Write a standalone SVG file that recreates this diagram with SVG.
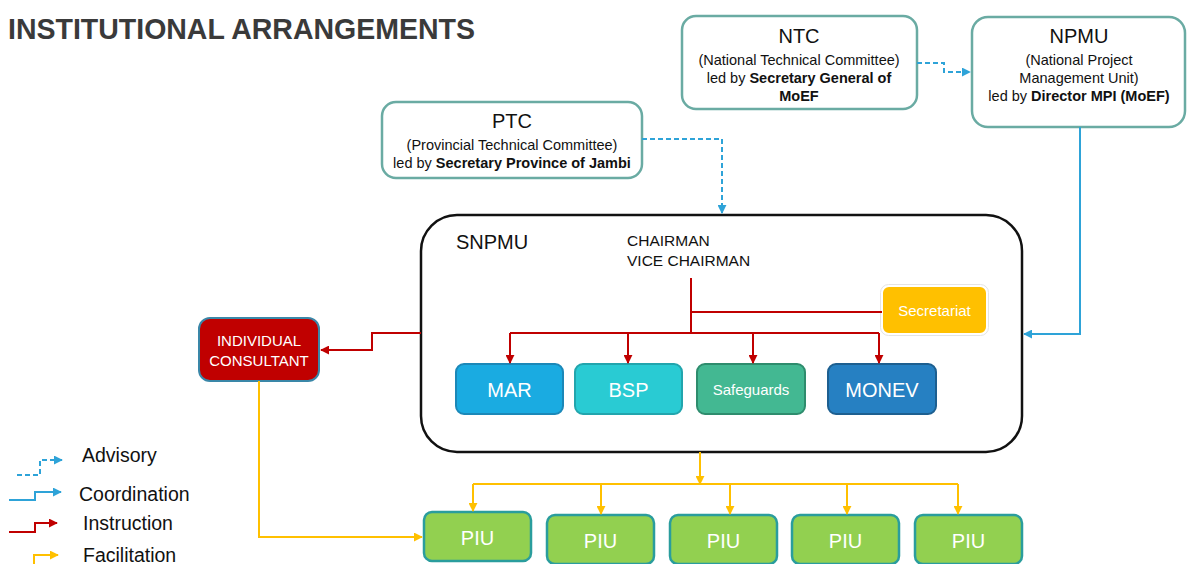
<svg xmlns="http://www.w3.org/2000/svg" width="1188" height="564" viewBox="0 0 1188 564">
  <style>
    text { font-family: "Liberation Sans", Arial, sans-serif; }
    .title { font-size: 30px; font-weight: bold; fill: #3a3a3a; }
    .committee { fill: #ffffff; stroke: #6aaba3; stroke-width: 2.5; }
    .head { font-size: 20px; fill: #111; text-anchor: middle; }
    .sub { font-size: 14.5px; fill: #111; text-anchor: middle; }
    .b { font-weight: bold; }
    .unit { stroke-width: 2; }
    .unitlabel { font-size: 20px; fill: #ffffff; text-anchor: middle; }
    .small { font-size: 15px; fill: #ffffff; text-anchor: middle; }
    .piu { fill: #92d050; stroke: #2a9d9d; stroke-width: 2.5; }
    .advisory { fill: none; stroke: #2ea3d8; stroke-width: 2; stroke-dasharray: 5 3; }
    .coord { fill: none; stroke: #2ea3d8; stroke-width: 2; }
    .instr { fill: none; stroke: #c00000; stroke-width: 2; }
    .facil { fill: none; stroke: #ffc000; stroke-width: 2; }
    .legend { font-size: 19.5px; fill: #111; }
  </style>
  <defs>
    <marker id="arrBlue" viewBox="0 0 10 10" refX="9" refY="5" markerWidth="9" markerHeight="9" markerUnits="userSpaceOnUse" orient="auto">
      <path d="M0,0 L10,5 L0,10 z" fill="#2ea3d8"/>
    </marker>
    <marker id="arrRed" viewBox="0 0 10 10" refX="9" refY="5" markerWidth="9" markerHeight="9" markerUnits="userSpaceOnUse" orient="auto">
      <path d="M0,0 L10,5 L0,10 z" fill="#c00000"/>
    </marker>
    <marker id="arrYellow" viewBox="0 0 10 10" refX="9" refY="5" markerWidth="9" markerHeight="9" markerUnits="userSpaceOnUse" orient="auto">
      <path d="M0,0 L10,5 L0,10 z" fill="#ffc000"/>
    </marker>
  </defs>

  <rect width="1188" height="564" fill="#ffffff"/>

  <text class="title" x="8" y="39" textLength="467" lengthAdjust="spacingAndGlyphs">INSTITUTIONAL ARRANGEMENTS</text>

  <!-- Committees -->
  <g id="ntc">
    <rect class="committee" x="682" y="16" width="235" height="93" rx="14"/>
    <text class="head" x="799" y="43">NTC</text>
    <text class="sub" x="799" y="65">(National Technical Committee)</text>
    <text class="sub" x="799" y="83">led by <tspan class="b">Secretary General of</tspan></text>
    <text class="sub b" x="799" y="101">MoEF</text>
  </g>

  <g id="npmu">
    <rect class="committee" x="972" y="17" width="213" height="110" rx="16"/>
    <text class="head" x="1079" y="43">NPMU</text>
    <text class="sub" x="1079" y="65">(National Project</text>
    <text class="sub" x="1079" y="83">Management Unit)</text>
    <text class="sub" x="1079" y="101">led by <tspan class="b">Director MPI (MoEF)</tspan></text>
  </g>

  <g id="ptc">
    <rect class="committee" x="382" y="102" width="260" height="76" rx="14"/>
    <text class="head" x="512" y="128">PTC</text>
    <text class="sub" x="512" y="150">(Provincial Technical Committee)</text>
    <text class="sub" x="512" y="168">led by <tspan class="b">Secretary Province of Jambi</tspan></text>
  </g>

  <!-- Provincial unit with its internal teams -->
  <g id="snpmu">
    <rect x="421" y="215" width="601" height="237" rx="36" fill="#ffffff" stroke="#111" stroke-width="2.5"/>
    <text x="456" y="249" font-size="20" fill="#111">SNPMU</text>
    <text x="627" y="246" font-size="15.5" fill="#111">CHAIRMAN</text>
    <text x="627" y="266" font-size="15.5" fill="#111">VICE CHAIRMAN</text>
  </g>

  <g id="secretariat">
    <rect x="882" y="286" width="105" height="48" rx="7" fill="#ffc000" stroke="#ffffff" stroke-width="2"/>
    <rect x="880.5" y="284.5" width="108" height="51" rx="8" fill="none" stroke="#e4e4e4" stroke-width="1"/>
    <text class="small" x="934.5" y="316">Secretariat</text>
  </g>

  <g id="mar">
    <rect class="unit" x="456" y="364" width="107" height="50" rx="8" fill="#1aabe1" stroke="#1b88b8"/>
    <text class="unitlabel" x="509.5" y="397">MAR</text>
  </g>
  <g id="bsp">
    <rect class="unit" x="575" y="364" width="107" height="50" rx="8" fill="#29cbd3" stroke="#22a5ad"/>
    <text class="unitlabel" x="628.5" y="397">BSP</text>
  </g>
  <g id="safeguards">
    <rect class="unit" x="697" y="364" width="108" height="50" rx="8" fill="#43b892" stroke="#2e8c6d"/>
    <text class="small" x="751" y="395">Safeguards</text>
  </g>
  <g id="monev">
    <rect class="unit" x="828" y="364" width="108" height="50" rx="8" fill="#2680c2" stroke="#1d5f90"/>
    <text class="unitlabel" x="882" y="397">MONEV</text>
  </g>

  <g id="individual-consultant">
    <rect x="199" y="318" width="120" height="63" rx="11" fill="#c00000" stroke="#3a87a8" stroke-width="2"/>
    <text class="small" x="259" y="346" font-size="15.5">INDIVIDUAL</text>
    <text class="small" x="259" y="366" font-size="15.5">CONSULTANT</text>
  </g>

  <!-- Project implementation units -->
  <g id="piu-1">
    <rect class="piu" x="424" y="512" width="107" height="49" rx="8"/>
    <text class="unitlabel" x="477.5" y="545">PIU</text>
  </g>
  <g id="piu-2">
    <rect class="piu" x="547" y="515" width="107" height="49" rx="8"/>
    <text class="unitlabel" x="600.5" y="548">PIU</text>
  </g>
  <g id="piu-3">
    <rect class="piu" x="670" y="515" width="107" height="49" rx="8"/>
    <text class="unitlabel" x="723.5" y="548">PIU</text>
  </g>
  <g id="piu-4">
    <rect class="piu" x="792" y="515" width="107" height="49" rx="8"/>
    <text class="unitlabel" x="845.5" y="548">PIU</text>
  </g>
  <g id="piu-5">
    <rect class="piu" x="915" y="515" width="107" height="49" rx="8"/>
    <text class="unitlabel" x="968.5" y="548">PIU</text>
  </g>

  <!-- Connectors -->
  <g id="connectors">
    <!-- advisory -->
    <path class="advisory" d="M917,63 H944 V72 H970" marker-end="url(#arrBlue)"/>
    <path class="advisory" d="M642,139 H722 V213" marker-end="url(#arrBlue)"/>
    <!-- coordination -->
    <path class="coord" d="M1080,127 V334 H1024" marker-end="url(#arrBlue)"/>
    <!-- instruction -->
    <path class="instr" d="M691,278 V333"/>
    <path class="instr" d="M691,312 H882"/>
    <path class="instr" d="M510,333 H879"/>
    <path class="instr" d="M510,333 V363" marker-end="url(#arrRed)"/>
    <path class="instr" d="M628,333 V363" marker-end="url(#arrRed)"/>
    <path class="instr" d="M753,333 V363" marker-end="url(#arrRed)"/>
    <path class="instr" d="M879,333 V363" marker-end="url(#arrRed)"/>
    <path class="instr" d="M421,333 H372 V350 H321" marker-end="url(#arrRed)"/>
    <!-- facilitation -->
    <path class="facil" d="M259,381 V537 H422" marker-end="url(#arrYellow)"/>
    <path class="facil" d="M700,452 V484" marker-end="url(#arrYellow)"/>
    <path class="facil" d="M473,484 H958"/>
    <path class="facil" d="M473,484 V511" marker-end="url(#arrYellow)"/>
    <path class="facil" d="M601,484 V514" marker-end="url(#arrYellow)"/>
    <path class="facil" d="M730,484 V514" marker-end="url(#arrYellow)"/>
    <path class="facil" d="M847,484 V514" marker-end="url(#arrYellow)"/>
    <path class="facil" d="M958,484 V514" marker-end="url(#arrYellow)"/>
  </g>

  <!-- Legend -->
  <g id="legend">
    <path class="advisory" d="M17,475 H40 V460 H62" marker-end="url(#arrBlue)"/>
    <text class="legend" x="82" y="462">Advisory</text>
    <path class="coord" d="M9,500 H35 V492 H61" marker-end="url(#arrBlue)"/>
    <text class="legend" x="79" y="501">Coordination</text>
    <path class="instr" d="M9,532 H35 V523 H57" marker-end="url(#arrRed)"/>
    <text class="legend" x="83" y="530">Instruction</text>
    <path class="facil" d="M34,564 V555 H58" marker-end="url(#arrYellow)"/>
    <text class="legend" x="83" y="562">Facilitation</text>
  </g>
</svg>
